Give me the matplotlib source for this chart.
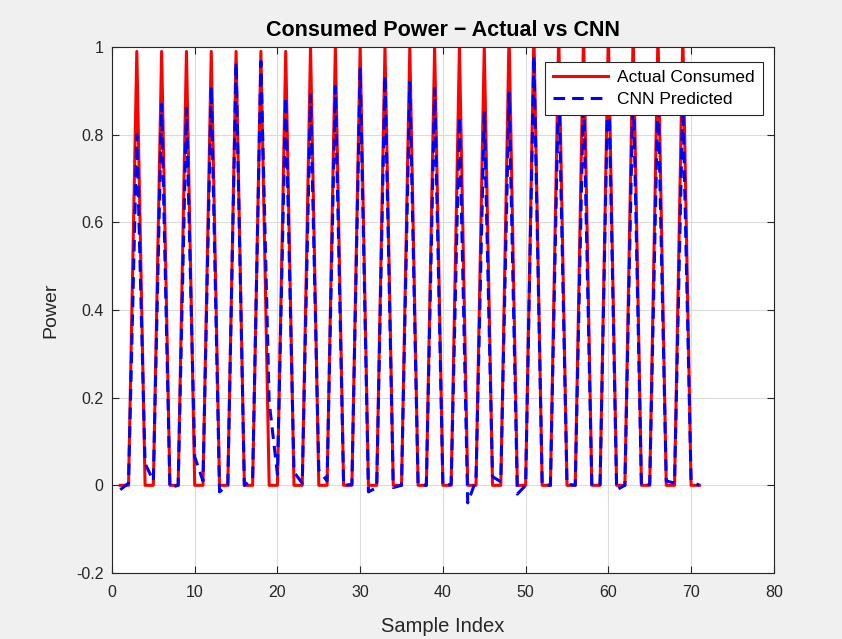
import numpy as np
import matplotlib.pyplot as plt

plt.rcParams['font.family'] = ['Liberation Sans', 'DejaVu Sans']

# sample index 1..71
sample_idx = list(range(1, 72))

# actual consumed power (peak every third sample)
actual = [0, 0, 0.99, 0, 0, 0.99, 0, 0, 0.99, 0, 0, 0.99,
          0, 0, 0.99, 0, 0, 0.99, 0, 0, 0.99, 0, 0, 1.0,
          0, 0, 1.0, 0, 0, 1.0, 0, 0, 1.0, 0, 0, 1.0,
          0, 0, 1.0, 0, 0, 1.0, 0, 0, 1.0, 0, 0, 1.03,
          0, 0, 1.03, 0, 0, 1.03, 0, 0, 1.03, 0, 0, 1.03,
          0, 0, 1.03, 0, 0, 1.03, 0, 0, 1.03, 0, 0]

# CNN predicted power
predicted = [-0.01, 0.005, 0.80, 0.05, 0.01, 0.87, -0.005, 0.0, 0.86,
             0.065, 0.01, 0.91, -0.015, 0.0, 0.965, 0.0, 0.015, 0.967,
             0.19, 0.025, 0.885, 0.03, 0.005, 0.89, 0.035, 0.01, 0.91,
             0.0, 0.002, 0.95, -0.015, -0.005, 0.935, -0.005, 0.0, 0.92,
             0.002, 0.0, 0.905, 0.0, 0.002, 0.84, -0.04, 0.012, 0.85,
             0.02, 0.008, 0.895, -0.02, 0.0, 0.98, 0.002, 0.0, 0.93,
             0.003, 0.0, 0.90, 0.0, 0.002, 0.97, -0.01, 0.0, 0.92,
             0.0, 0.002, 0.90, 0.01, 0.005, 0.88, 0.01, 0.0]

x_ticks = [0, 10, 20, 30, 40, 50, 60, 70, 80]
y_ticks = [-0.2, 0, 0.2, 0.4, 0.6, 0.8, 1]
y_tick_labels = ['-0.2', '0', '0.2', '0.4', '0.6', '0.8', '1']

fig = plt.figure(figsize=(8.42, 6.39), dpi=100, facecolor='#f0f0f0')
ax = fig.add_axes([0.133, 0.1033, 0.786, 0.8231])
ax.set_facecolor('white')

ax.plot(sample_idx, actual, color='red', lw=2.2, label='Actual Consumed')
ax.plot(sample_idx, predicted, color='blue', lw=2.2, linestyle='--',
        dashes=(3.8, 2.3), label='CNN Predicted')

ax.set_xlim(0, 80)
ax.set_ylim(-0.2, 1)
ax.set_xticks(x_ticks)
ax.set_yticks(y_ticks)
ax.set_yticklabels(y_tick_labels)

ax.grid(True, color='#dcdcdc', lw=0.8)
ax.set_axisbelow(True)
ax.tick_params(direction='in', top=True, right=True, length=5,
               labelsize=11.5, colors='#262626', width=0.8)
ax.tick_params(axis='x', pad=9)
ax.tick_params(axis='y', pad=6)
for s in ax.spines.values():
    s.set_color('#262626')
    s.set_linewidth(0.8)

ax.set_xlabel('Sample Index', fontsize=14.5, color='#262626', labelpad=12)
ax.set_ylabel('Power', fontsize=14, color='#262626', labelpad=12)
ax.set_title('Consumed Power \u2212 Actual vs CNN', fontsize=15.5,
             fontweight='bold', color='black', pad=8)

leg = ax.legend(loc='upper right', bbox_to_anchor=(0.983, 0.972),
                fontsize=12.5, frameon=True, fancybox=False, framealpha=1,
                edgecolor='#262626', handlelength=3.2, borderpad=0.45,
                labelspacing=0.4, handletextpad=0.5, borderaxespad=0)
leg.get_frame().set_linewidth(0.8)

fig.savefig('out.png', dpi=100, facecolor=fig.get_facecolor())
